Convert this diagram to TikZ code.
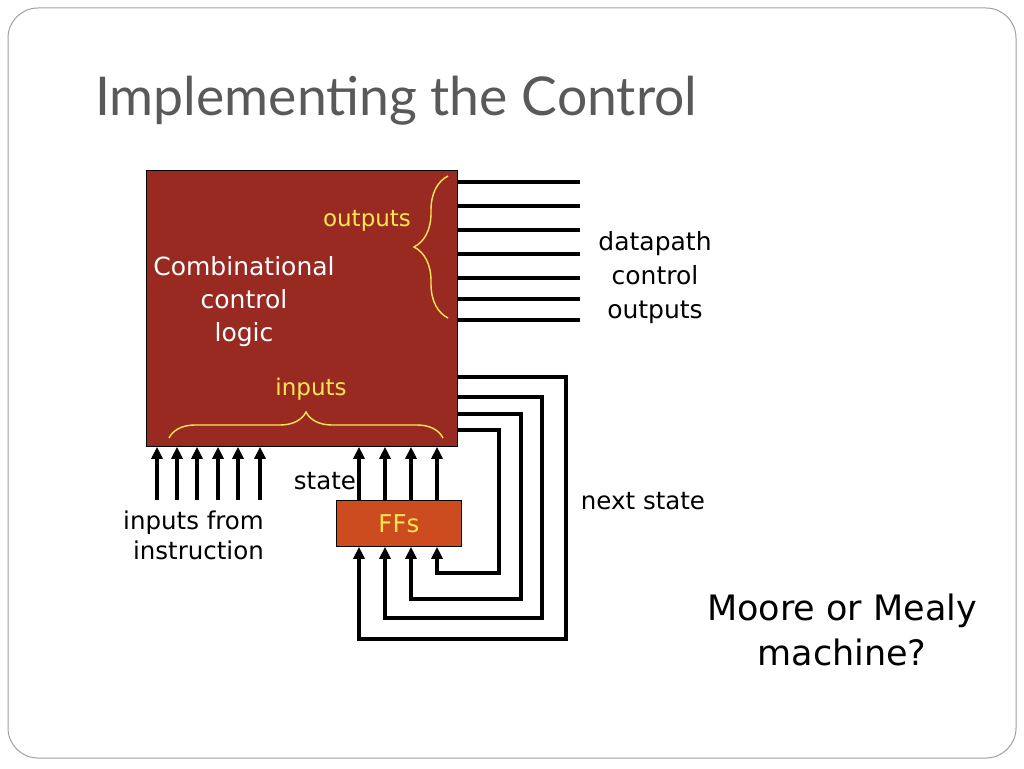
\documentclass[tikz,border=0pt]{standalone}
\usepackage{fontspec}
\setmainfont{DejaVu Sans}
\newfontfamily\titlefont{Lato}
\usetikzlibrary{arrows.meta,decorations.pathreplacing}
\definecolor{boxred}{RGB}{153,42,34}
\definecolor{fforange}{RGB}{204,75,31}
\definecolor{ylw}{RGB}{255,230,80}
\definecolor{titlegray}{RGB}{89,89,89}
\definecolor{framegray}{RGB}{160,160,160}
\tikzset{
  wire/.style={line width=3.4pt},
  arr/.style={line width=3.4pt,-{Triangle[length=12pt,width=11pt]}},
  ybrace/.style={draw=ylw,line width=1.4pt,decorate,decoration={brace,amplitude=#1,aspect=0.5}},
  lbl/.style={font=\fontsize{24.5}{30}\selectfont,inner sep=0pt},
}
\begin{document}
\begin{tikzpicture}[x=1pt,y=-1pt]
\useasboundingbox (0,0) rectangle (1024,768);
\fill[white] (0,0) rectangle (1024,768);
\draw[framegray,line width=1pt,rounded corners=30pt] (8,8) rectangle (1016,758);
\node[anchor=base west,text=titlegray,inner sep=0pt,font=\titlefont\fontsize{53.5}{60}\selectfont] (title) at (95,115) {Implementing the Control};

% main block
\node[draw=black,line width=0.8pt,fill=boxred,minimum width=311pt,minimum height=276pt,anchor=north west,inner sep=0pt] (ccl) at (146,170) {};
\node[text=white,align=center,inner sep=0pt,font=\fontsize{25}{33}\selectfont] (cclt) at (244,302) {Combinational\\control\\logic};
\node[lbl,text=ylw,font=\fontsize{23}{26}\selectfont] (outl) at (367,221) {outputs};
\node[lbl,text=ylw,font=\fontsize{23}{26}\selectfont] (inl) at (311,389) {inputs};
\coordinate (ob1) at (448,318);
\coordinate (ob2) at (448,176);
\draw[ybrace=34pt] (ob1) -- (ob2);
\coordinate (ib1) at (169,438);
\coordinate (ib2) at (443,438);
\draw[ybrace=26pt] (ib1) -- (ib2);

% FFs
\node[draw=black,line width=0.8pt,fill=fforange,minimum width=125pt,minimum height=46pt,anchor=north west,inner sep=0pt] (ff) at (336,500) {};
\node[lbl,text=ylw] (fft) at (ff.center) {FFs};

% datapath control outputs
\foreach \y in {182,206,230,254,278,299,320}
  \draw[wire] (ccl.east |- 0,\y) -- (580,\y);
\node[lbl,align=center,font=\fontsize{25}{34}\selectfont] (dco) at (655,278) {datapath\\control\\outputs};

% inputs from instruction
\foreach \x in {157,177,197,218,238,260}
  \draw[arr] (\x,500) -- (ccl.south -| \x,0);
\node[lbl,align=right,anchor=north east,font=\fontsize{24.5}{30}\selectfont] (ifi) at (264,511) {inputs from\\instruction};

% state
\foreach \x in {359,385,411,437}
  \draw[arr] (ff.north -| \x,0) -- (ccl.south -| \x,0);
\node[lbl] (st) at (325,481) {state};

% next state feedback
\foreach \y/\xr/\yb/\xl in {377/566/639/359,397/542/618/385,414/521/599/411,430/499/573/437}
  \draw[arr] (ccl.east |- 0,\y) -- (\xr,\y) -- (\xr,\yb) -- (\xl,\yb) -- (ff.south -| \xl,0);
\node[lbl] (ns) at (643,501) {next state};

\node[align=center,inner sep=0pt,font=\fontsize{35}{45}\selectfont] (mm) at (842,630) {Moore or Mealy\\machine?};
\end{tikzpicture}
\end{document}
